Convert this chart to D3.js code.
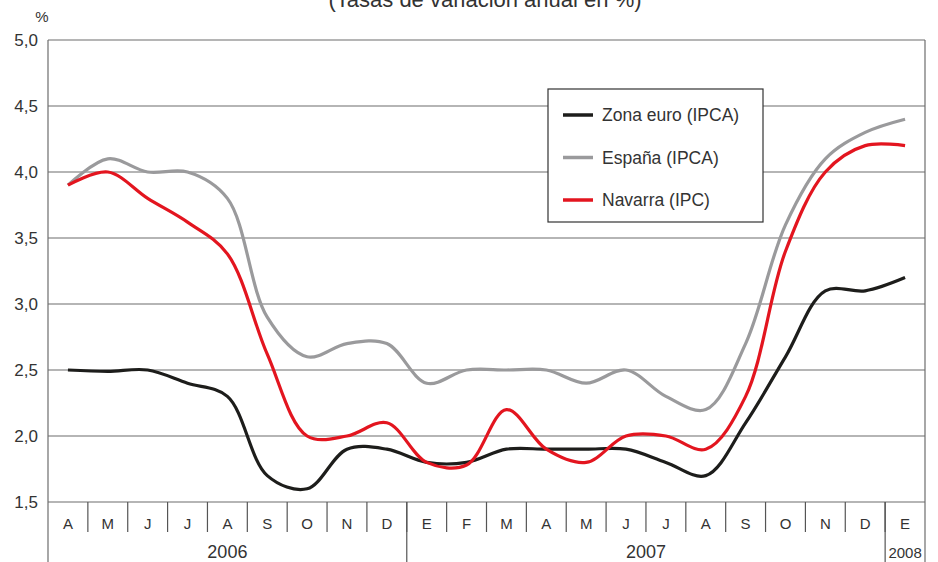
<!DOCTYPE html>
<html>
<head>
<meta charset="utf-8">
<script src="https://cdn.jsdelivr.net/npm/d3@7"></script>
<style>
  body { margin: 0; background: #fff; }
  svg { display: block; font-family: "Liberation Sans", Arial, sans-serif; }
</style>
</head>
<body>
<svg id="chart" width="938" height="562"></svg>
<script>
// month labels (Spanish initials), Apr 2006 .. Jan 2008
var months = ["A","M","J","J","A","S","O","N","D","E","F","M","A","M","J","J","A","S","O","N","D","E"];
var years = [
  { label: "2006", from: 0, to: 9 },
  { label: "2007", from: 9, to: 21 },
  { label: "2008", from: 21, to: 22 }
];
var yTicks = [1.5, 2.0, 2.5, 3.0, 3.5, 4.0, 4.5, 5.0];

// series values (tasas de variación anual, %)
var zonaEuro = [2.5, 2.49, 2.5, 2.4, 2.3, 1.7, 1.6, 1.9, 1.9, 1.8, 1.8, 1.9, 1.9, 1.9, 1.9, 1.8, 1.7, 2.1, 2.6, 3.1, 3.1, 3.2];
var espana   = [3.9, 4.1, 4.0, 4.0, 3.8, 2.9, 2.6, 2.7, 2.7, 2.4, 2.5, 2.5, 2.5, 2.4, 2.5, 2.3, 2.2, 2.7, 3.6, 4.1, 4.3, 4.4];
var navarra  = [3.9, 4.0, 3.8, 3.62, 3.38, 2.62, 2.0, 2.0, 2.1, 1.8, 1.78, 2.2, 1.9, 1.8, 2.0, 2.0, 1.9, 2.3, 3.4, 4.0, 4.2, 4.2];

var series = [
  { name: "Zona euro (IPCA)", values: zonaEuro, color: "#1d1d1b" },
  { name: "España (IPCA)", values: espana, color: "#9a9a9c" },
  { name: "Navarra (IPC)", values: navarra, color: "#e3151f" }
];

var margin = { top: 40, right: 13, bottom: 60, left: 48 },
    width = 938 - margin.left - margin.right,
    height = 562 - margin.top - margin.bottom;

var svg = d3.select("#chart");
var g = svg.append("g").attr("transform", "translate(" + margin.left + "," + margin.top + ")");

// band scale for the month cells, linear for the rates
var xScale = d3.scaleBand().domain(d3.range(months.length)).range([0, width]).paddingInner(0).paddingOuter(0);
var yScale = d3.scaleLinear().domain([1.5, 5.0]).range([height, 0]);
var step = xScale.step();

// title (cut off at the top edge, as in the source)
svg.append("text")
  .attr("x", 485).attr("y", 7)
  .attr("text-anchor", "middle")
  .attr("font-size", 22).attr("fill", "#333")
  .text("(Tasas de variación anual en %)");

// horizontal grid
g.selectAll(".grid").data(yTicks).enter().append("line")
  .attr("x1", 0).attr("x2", width)
  .attr("y1", function(d){ return yScale(d); })
  .attr("y2", function(d){ return yScale(d); })
  .attr("stroke", "#6d6d6d").attr("stroke-width", 1.2);

// y axis labels
var yAxis = d3.axisLeft(yScale).tickValues(yTicks).tickSize(0).tickPadding(10)
  .tickFormat(function(d){ return d3.format(".1f")(d).replace(".", ","); });
var ya = g.append("g").call(yAxis);
ya.select(".domain").remove();
ya.selectAll("text").attr("font-size", 17).attr("fill", "#333")
  .attr("font-family", "'Liberation Sans', Arial, sans-serif");

svg.append("text").attr("x", 42).attr("y", 22).attr("text-anchor", "middle")
  .attr("font-size", 15).attr("fill", "#333").text("%");

// left axis line and right border
g.append("line").attr("x1", 0).attr("x2", 0).attr("y1", 0).attr("y2", height + margin.bottom)
  .attr("stroke", "#6d6d6d").attr("stroke-width", 1.2);
g.append("line").attr("x1", width).attr("x2", width).attr("y1", 0).attr("y2", height + margin.bottom)
  .attr("stroke", "#6d6d6d").attr("stroke-width", 1.2);

// month cells
g.selectAll(".msep").data(d3.range(1, months.length)).enter().append("line")
  .attr("x1", function(d){ return d * step; })
  .attr("x2", function(d){ return d * step; })
  .attr("y1", height).attr("y2", height + 30)
  .attr("stroke", "#555").attr("stroke-width", 1.2);

g.selectAll(".mlab").data(months).enter().append("text")
  .attr("x", function(d, i){ return xScale(i) + step / 2; })
  .attr("y", height + 27)
  .attr("text-anchor", "middle").attr("font-size", 15).attr("fill", "#333")
  .text(function(d){ return d; });

// year separators and labels
g.selectAll(".ysep").data(years.slice(1)).enter().append("line")
  .attr("x1", function(d){ return d.from * step; })
  .attr("x2", function(d){ return d.from * step; })
  .attr("y1", height).attr("y2", height + margin.bottom)
  .attr("stroke", "#555").attr("stroke-width", 1.2);

g.selectAll(".ylab").data(years).enter().append("text")
  .attr("x", function(d){ return (d.from + d.to) / 2 * step; })
  .attr("y", height + 56)
  .attr("text-anchor", "middle")
  .attr("font-size", function(d){ return d.to - d.from > 1 ? 18 : 15; })
  .attr("fill", "#333")
  .text(function(d){ return d.label; });

// lines
var line = d3.line()
  .x(function(d, i){ return xScale(i) + step / 2; })
  .y(function(d){ return yScale(d); })
  .curve(d3.curveCatmullRom.alpha(0.5));

g.selectAll(".serie").data(series).enter().append("path")
  .attr("d", function(d){ return line(d.values); })
  .attr("fill", "none")
  .attr("stroke", function(d){ return d.color; })
  .attr("stroke-width", 3.2)
  .attr("stroke-linejoin", "round");

// legend
var legend = svg.append("g").attr("transform", "translate(548,89)");
legend.append("rect").attr("width", 215).attr("height", 133)
  .attr("fill", "#fff").attr("stroke", "#333").attr("stroke-width", 1.2);
var items = legend.selectAll(".item").data(series).enter().append("g")
  .attr("transform", function(d, i){ return "translate(0," + (26 + i * 42.5) + ")"; });
items.append("line").attr("x1", 15).attr("x2", 45).attr("y1", 0).attr("y2", 0)
  .attr("stroke", function(d){ return d.color; }).attr("stroke-width", 3.5);
items.append("text").attr("x", 54).attr("y", 6)
  .attr("font-size", 17.5).attr("fill", "#333")
  .text(function(d){ return d.name; });
</script>
</body>
</html>
